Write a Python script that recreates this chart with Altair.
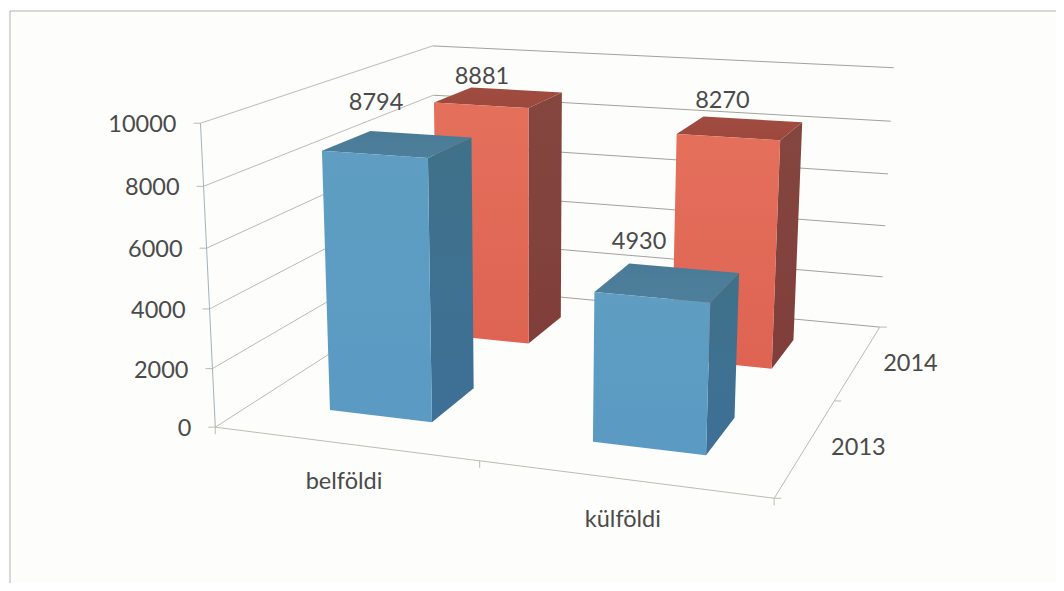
import altair as alt
import numpy as np

categories = ["belföldi", "külföldi"]
years = ["2013", "2014"]
values_2013 = [8794, 4930]
values_2014 = [8881, 8270]
value_ticks = [0, 2000, 4000, 6000, 8000, 10000]

# Camera: cube corners (category, depth, value share) and where they appear on the page.
cube = [(0, 0, 0), (0, 0, 1), (1, 0, 0), (1, 1, 0), (1, 1, 1), (0, 1, 0), (0, 1, 1),
        (0, 0, 0.8), (0, 0, 0.4), (0, 1, 0.8), (1, 1, 0.6), (1, 1, 0.2)]
page = [(217, 427), (200, 123), (774, 499), (881, 326), (893, 68), (434, 286), (434, 45),
        (202, 187), (210, 308), (434, 96), (888, 174), (882, 277)]

rows = []
for (a, b, c), (sx, sy) in zip(cube, page):
    rows.append([a, b, c, 1, 0, 0, 0, 0, -sx * a, -sx * b, -sx * c, -sx])
    rows.append([0, 0, 0, 0, a, b, c, 1, -sy * a, -sy * b, -sy * c, -sy])
A = np.array(rows, float)
u_, s_, vt = np.linalg.svd(A)
P = vt[-1].reshape(3, 4)


def proj(u, w, h):
    x = P @ np.array([u, w, h, 1.0])
    return float(x[0] / x[2]), float(x[1] / x[2])


def to_geo(p):
    return [p[0] - 8, p[1] - 8]


def poly(pts):
    ring = [to_geo(p) for p in pts]
    ring.append(ring[0])
    return {"type": "Feature", "geometry": {"type": "Polygon", "coordinates": [ring]}}


def line(pts, stroke):
    return {"type": "Feature", "geometry": {"type": "LineString", "coordinates": [to_geo(p) for p in pts]}, "stroke": stroke}


WALL = "#bcbcb0"
BACK = "#a2a29a"
AXIS = "#a3b2bc"
BORDER = "#b4b4ae"
TEXT = "#4a4a4a"
lines = []
for v in value_ticks:
    h = v / 10000
    lines.append(line([proj(0, 0, h), proj(0, 1, h)], WALL))
    lines.append(line([proj(0, 1, h), proj(1, 1, h)], BACK))
    px = proj(0, 0, h)
    lines.append(line([(px[0] - 7, px[1]), px], WALL))
lines.append(line([proj(0, 0, 0), proj(0, 0, 1)], AXIS))
lines.append(line([proj(0, 0, 0), proj(1, 0, 0), proj(1, 1, 0)], WALL))
for u in (0, 0.5, 1):
    px = proj(u, 0, 0)
    lines.append(line([px, (px[0], px[1] + 7)], WALL))
for w in (0, 0.5, 1):
    px = proj(1, w, 0)
    lines.append(line([px, (px[0] + 7, px[1])], WALL))
lines.append(line([(10, 583), (10, 11), (1056, 11)], BORDER))

FACE = {
    "2013": dict(front=("#5f9ec2", "#5a9ac3"), side=("#3f7189", "#3e7098"), top=("#4a7b96", "#4d7f9c")),
    "2014": dict(front=("#e4705c", "#de6352"), side=("#84463f", "#803e3b"), top=("#a04c40", "#9c483c")),
}
HALF = 0.1
identity = dict(type="identity", scale=1, translate=[0, 0])


def face(points, colors):
    grad = alt.Gradient(
        gradient="linear", x1=0, y1=0, x2=0, y2=1,
        stops=[alt.GradientStop(color=colors[0], offset=0), alt.GradientStop(color=colors[1], offset=1)],
    )
    return alt.Chart(alt.Data(values=[poly(points)])).mark_geoshape(fill=grad, strokeWidth=0).project(**identity)


def bar(ci, wc, value, col):
    u0, u1 = ci - HALF, ci + HALF
    w0, w1 = wc - HALF, wc + HALF
    h = value / 10000
    return [
        face([proj(u1, w0, 0), proj(u1, w1, 0), proj(u1, w1, h), proj(u1, w0, h)], col["side"]),
        face([proj(u0, w0, h), proj(u1, w0, h), proj(u1, w1, h), proj(u0, w1, h)], col["top"]),
        face([proj(u0, w0, 0), proj(u1, w0, 0), proj(u1, w0, h), proj(u0, w0, h)], col["front"]),
    ]


face_layers = []
for ci, v in zip((0.25, 0.75), values_2014):
    face_layers += bar(ci, 0.75, v, FACE["2014"])
for ci, v in zip((0.25, 0.75), values_2013):
    face_layers += bar(ci, 0.25, v, FACE["2013"])

texts = []
for v in value_ticks:
    px = proj(0, 0, v / 10000)
    texts.append({"x": px[0] - 24, "y": px[1] + 2, "t": str(v), "a": "right"})
for c, u, dy in zip(categories, (0.25, 0.75), (38, 41)):
    px = proj(u, 0, 0)
    texts.append({"x": px[0], "y": px[1] + dy, "t": c, "a": "center"})
for y, w in zip(years, (0.25, 0.75)):
    px = proj(1, w, 0)
    texts.append({"x": px[0] + 52, "y": px[1] + 2, "t": y, "a": "center"})
label_offsets = [(-22, -41), (-17, -20), (-18, -27), (-29, -40)]
for (c, w, v), off in zip([(0.25, 0.25, values_2013[0]), (0.25, 0.75, values_2014[0]),
                           (0.75, 0.75, values_2014[1]), (0.75, 0.25, values_2013[1])], label_offsets):
    px = proj(c, w, v / 10000)
    texts.append({"x": px[0] + off[0], "y": px[1] + off[1], "t": str(v), "a": "center"})

line_layer = alt.Chart(alt.Data(values=lines)).mark_geoshape(filled=False, strokeWidth=1).encode(
    stroke=alt.Stroke("stroke:N", scale=None)
).project(**identity)


def text_layer(align):
    return alt.Chart(alt.Data(values=[t for t in texts if t["a"] == align])).mark_text(
        font="Lato", fontSize=23.5, color=TEXT, align=align
    ).encode(
        x=alt.X("x:Q", scale=alt.Scale(domain=[8, 1056]), axis=None),
        y=alt.Y("y:Q", scale=alt.Scale(domain=[583, 8]), axis=None),
        text="t:N",
    )


chart = alt.layer(line_layer, *face_layers, text_layer("right"), text_layer("center")).properties(
    width=1048, height=575, background="#fdfdfb", padding=0,
    autosize=alt.AutoSizeParams(type="none"),
).configure_view(stroke=None)
chart.save("out.html", embed_options={"renderer": "svg", "actions": False})
